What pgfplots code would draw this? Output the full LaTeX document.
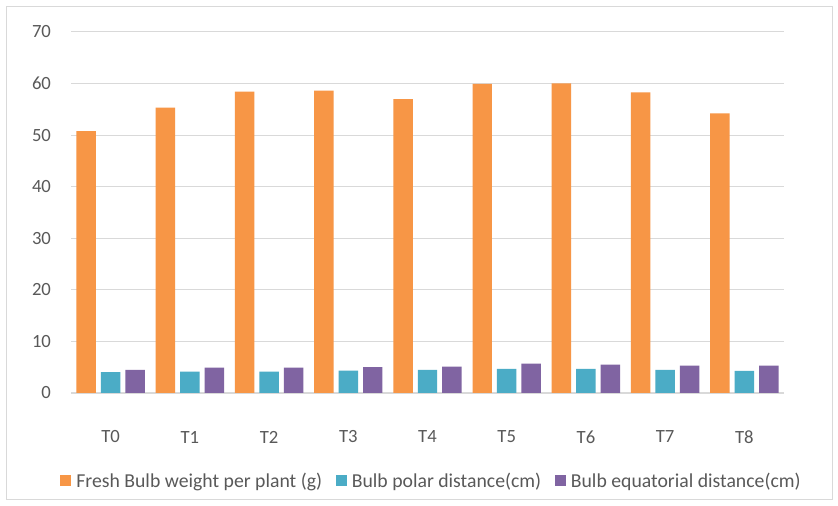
\documentclass[border=0pt]{standalone}
\usepackage{fontspec}
\setmainfont{Carlito}
\usepackage{pgfplots}
\pgfplotsset{compat=1.18}
\definecolor{cOrange}{HTML}{F79646}
\definecolor{cTeal}{HTML}{4BACC6}
\definecolor{cPurple}{HTML}{8064A2}
\definecolor{cGrid}{HTML}{D9D9D9}
\definecolor{cText}{HTML}{595959}
\begin{document}
\begin{tikzpicture}
\fill[white] (0pt,0pt) rectangle (628.5pt,379.5pt);
\draw[cGrid,line width=0.75pt] (4.9pt,4.5pt) rectangle (624pt,374.6pt);
\begin{axis}[
  at={(53.25pt,84.75pt)}, anchor=south west,
  scale only axis, width=534.75pt, height=270.75pt,
  xmin=-0.5, xmax=8.5, ymin=0, ymax=70,
  ytick={0,10,...,70},
  xtick={0,...,8},
  xticklabels={T0,T1,T2,T3,T4,T5,T6,T7,T8},
  ybar=3.75pt, bar width=14.6pt,
  ymajorgrids, grid style={color=cGrid, line width=0.75pt},
  axis x line*=bottom, axis y line*=left,
  x axis line style={draw=cGrid, line width=1pt, -},
  y axis line style={draw=none},
  major tick length=0pt,
  /pgf/number format/assume math mode=true,
  tick label style={font=\fontsize{14}{16}\selectfont, text=cText},
  xticklabel style={anchor=center, yshift=-33pt},
  yticklabel style={xshift=-11.5pt},
  legend columns=3,
  legend style={draw=none, at={(0.504,-0.244)}, anchor=center,
    font=\fontsize{14.8}{16}\selectfont, text=cText,
    nodes={inner sep=0pt},
    /tikz/every even column/.append style={column sep=10pt},
    /tikz/every odd column/.append style={column sep=4pt}},
  legend image code/.code={\fill[#1] (0pt,-3.9pt) rectangle (8.25pt,4.35pt);},
]
\addplot[fill=cOrange, draw=none] coordinates {(0,50.8) (1,55.35) (2,58.45) (3,58.64) (4,57.0) (5,59.93) (6,60.05) (7,58.3) (8,54.24)};
\addplot[fill=cTeal, draw=none] coordinates {(0,4.07) (1,4.13) (2,4.13) (3,4.32) (4,4.5) (5,4.7) (6,4.7) (7,4.5) (8,4.3)};
\addplot[fill=cPurple, draw=none] coordinates {(0,4.46) (1,4.9) (2,4.9) (3,5.04) (4,5.1) (5,5.68) (6,5.49) (7,5.3) (8,5.3)};
\legend{Fresh Bulb weight per plant (g), Bulb polar distance(cm), Bulb equatorial distance(cm)}
\end{axis}
\end{tikzpicture}
\end{document}
